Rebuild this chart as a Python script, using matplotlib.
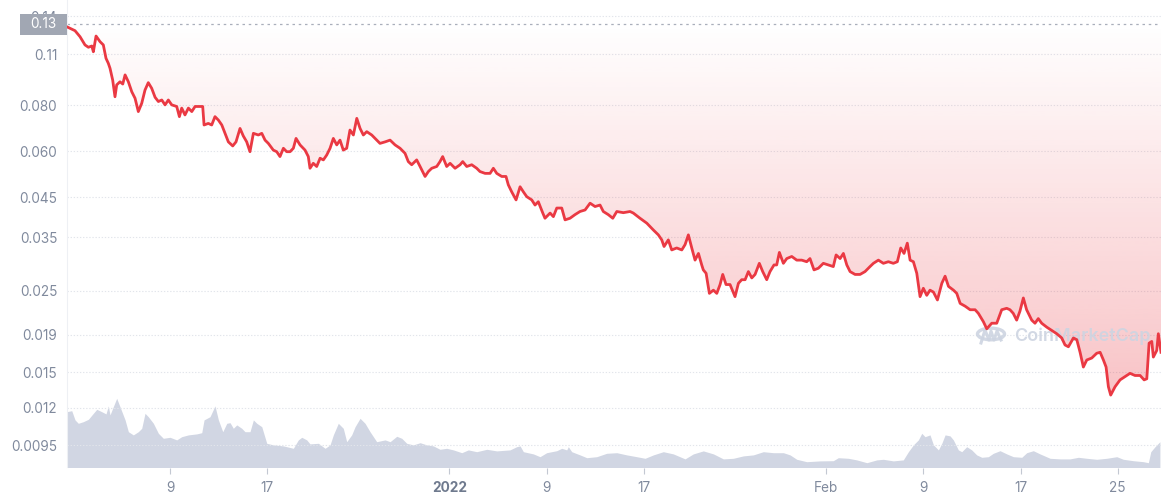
import numpy as np
import pandas as pd
import matplotlib
matplotlib.use("Agg")
import matplotlib.pyplot as plt
from matplotlib.patches import Rectangle, Circle
from matplotlib.lines import Line2D
from matplotlib.colors import to_rgb
from matplotlib.ticker import FixedLocator, NullLocator

plt.rcParams['font.family'] = ['Inter', 'DejaVu Sans']

# ---------------- data ----------------
start = pd.Timestamp("2021-12-01")
# price samples: days since 2021-12-01 and price in USD
price_day = [-0.50,0.18,0.59,1.00,1.28,1.56,1.69,1.91,2.24,2.51,2.73,2.92,3.06,3.28,3.47,3.61,3.88,4.11,4.30,4.57,
             4.85,5.12,5.39,5.67,5.94,6.21,6.49,6.77,7.04,7.32,7.59,7.86,8.14,8.55,8.77,8.96,9.23,9.51,9.79,10.06,
             10.47,10.69,10.80,11.15,11.43,11.70,11.98,12.26,12.53,12.80,13.16,13.43,13.76,14.03,14.31,14.58,14.86,15.27,15.55,15.82,
             16.09,16.50,16.78,17.05,17.33,17.60,17.88,18.15,18.37,18.70,19.11,19.38,19.52,19.79,20.07,20.35,20.62,20.90,21.17,21.44,
             21.72,21.99,22.26,22.54,22.81,23.09,23.37,23.64,23.91,24.19,24.60,25.01,25.28,25.70,26.11,26.52,26.93,27.34,27.61,27.89,
             28.30,28.58,28.99,29.26,29.54,29.95,30.22,30.44,30.77,31.05,31.46,31.87,32.09,32.42,32.83,33.24,33.51,33.93,34.34,34.61,
             34.89,35.30,35.65,35.84,36.12,36.48,36.81,37.08,37.36,37.77,38.04,38.31,38.68,38.86,39.28,39.55,39.83,40.24,40.51,40.92,
             41.33,41.74,42.16,42.57,42.98,43.39,43.66,44.07,44.44,44.77,45.31,45.86,46.13,46.68,47.24,47.78,48.19,48.47,48.66,49.01,
             49.29,49.70,50.12,50.39,50.66,50.94,51.21,51.49,51.76,51.89,52.12,52.39,52.72,53.00,53.27,53.49,53.76,54.09,54.50,54.78,
             55.05,55.33,55.60,55.88,56.15,56.50,56.78,57.11,57.38,57.71,57.93,58.15,58.48,58.76,59.17,59.58,59.99,60.40,60.67,61.00,
             61.36,61.77,62.18,62.59,62.82,63.15,63.42,63.70,63.97,64.38,64.79,65.20,65.61,65.89,66.30,66.71,67.12,67.53,67.86,68.14,
             68.41,68.68,68.91,69.18,69.46,69.73,70.00,70.28,70.55,70.83,71.16,71.52,71.79,72.07,72.48,72.75,73.03,73.44,73.85,74.26,
             74.53,74.94,75.22,75.63,76.04,76.45,76.86,77.13,77.40,77.68,77.95,78.23,78.50,78.92,79.19,79.46,79.74,80.16,80.57,80.98,
             81.39,81.66,81.94,82.35,82.63,82.90,83.17,83.45,83.86,84.27,84.55,84.82,85.04,85.23,85.42,85.78,86.19,86.60,87.01,87.42,
             87.84,88.17,88.39,88.58,88.80,88.93,89.21,89.34,89.56]
price = [0.1309,0.1277,0.1230,0.1168,0.1151,0.1160,0.1119,0.1235,0.1192,0.1168,0.1074,0.1041,0.1009,0.0937,0.0844,0.0909,0.0927,0.0914,0.0968,0.0927,
         0.0871,0.0836,0.0769,0.0810,0.0880,0.0922,0.0890,0.0841,0.0819,0.0827,0.0802,0.0827,0.0802,0.0794,0.0745,0.0786,0.0753,0.0786,0.0769,0.0794,
         0.0794,0.0794,0.0707,0.0714,0.0707,0.0745,0.0729,0.0707,0.0671,0.0636,0.0620,0.0636,0.0692,0.0660,0.0636,0.0598,0.0671,0.0664,0.0671,0.0643,
         0.0630,0.0604,0.0598,0.0580,0.0611,0.0598,0.0598,0.0611,0.0650,0.0624,0.0604,0.0580,0.0539,0.0556,0.0545,0.0574,0.0568,0.0586,0.0611,0.0650,
         0.0624,0.0643,0.0604,0.0611,0.0685,0.0664,0.0737,0.0692,0.0664,0.0678,0.0664,0.0643,0.0630,0.0636,0.0643,0.0624,0.0611,0.0592,0.0562,0.0551,
         0.0568,0.0545,0.0512,0.0528,0.0539,0.0545,0.0562,0.0580,0.0545,0.0556,0.0539,0.0551,0.0562,0.0545,0.0551,0.0539,0.0528,0.0522,0.0522,0.0539,
         0.0522,0.0512,0.0512,0.0486,0.0465,0.0442,0.0480,0.0465,0.0451,0.0442,0.0428,0.0437,0.0407,0.0394,0.0407,0.0398,0.0420,0.0420,0.0390,0.0394,
         0.0403,0.0411,0.0415,0.0433,0.0424,0.0428,0.0411,0.0403,0.0394,0.0411,0.0408,0.0411,0.0407,0.0394,0.0382,0.0366,0.0355,0.0344,0.0330,0.0344,
         0.0323,0.0327,0.0323,0.0334,0.0355,0.0327,0.0303,0.0316,0.0294,0.0285,0.0279,0.0246,0.0251,0.0246,0.0260,0.0277,0.0260,0.0260,0.0241,0.0262,
         0.0268,0.0268,0.0282,0.0271,0.0277,0.0297,0.0282,0.0268,0.0282,0.0294,0.0294,0.0318,0.0297,0.0306,0.0310,0.0303,0.0303,0.0300,0.0306,0.0285,
         0.0288,0.0297,0.0294,0.0291,0.0313,0.0306,0.0316,0.0294,0.0282,0.0277,0.0277,0.0282,0.0291,0.0297,0.0303,0.0297,0.0300,0.0297,0.0300,0.0327,
         0.0316,0.0337,0.0303,0.0300,0.0279,0.0241,0.0254,0.0243,0.0251,0.0248,0.0236,0.0262,0.0274,0.0257,0.0251,0.0246,0.0231,0.0227,0.0222,0.0222,
         0.0217,0.0206,0.0197,0.0204,0.0204,0.0222,0.0224,0.0222,0.0217,0.0208,0.0220,0.0239,0.0222,0.0208,0.0204,0.0210,0.0204,0.0199,0.0195,0.0191,
         0.0186,0.0178,0.0176,0.0186,0.0184,0.0170,0.0155,0.0162,0.0164,0.0169,0.0170,0.0162,0.0155,0.0137,0.0130,0.0137,0.0143,0.0146,0.0149,0.0147,
         0.0147,0.0143,0.0144,0.0180,0.0182,0.0165,0.0172,0.0191,0.0170]

# volume samples: days since 2021-12-01 and relative volume (millions)
vol_day = [-0.50,-0.09,0.18,0.45,0.86,1.28,1.69,1.97,2.38,2.73,2.92,3.06,3.33,3.61,3.88,4.30,4.57,4.98,5.39,5.67,
           5.94,6.21,6.63,7.04,7.45,8.00,8.55,8.96,9.51,10.20,10.61,10.80,11.29,11.70,11.98,12.34,12.67,12.94,13.21,13.49,
           13.90,14.17,14.58,14.86,15.14,15.55,15.96,16.50,17.33,18.15,18.56,18.84,19.25,19.52,20.21,20.76,21.17,21.44,21.85,22.26,
           22.54,22.95,23.23,23.64,24.05,24.46,25.01,25.70,26.11,26.66,27.07,27.48,28.02,28.58,29.13,29.67,30.22,30.77,31.32,32.01,
           32.55,33.24,34.07,34.89,35.98,36.53,36.81,37.08,37.90,38.45,39.00,39.83,40.24,40.65,40.78,41.06,41.74,42.30,43.12,43.94,
           44.77,45.59,46.41,47.10,47.78,48.60,49.42,50.39,51.07,51.89,52.72,53.54,54.36,55.19,56.01,56.83,57.65,58.48,59.03,59.58,
           60.40,61.50,62.59,63.00,63.83,64.52,65.35,66.17,66.71,67.53,68.35,68.77,69.18,69.59,69.87,70.14,70.55,70.83,71.24,71.52,
           71.79,72.20,72.47,72.88,73.16,73.57,73.98,74.39,74.81,75.35,75.76,76.31,76.86,77.41,78.10,78.51,79.05,79.60,80.43,81.25,
           82.07,82.76,83.45,84.27,85.09,85.92,86.46,87.28,88.11,88.52,88.72,89.07,89.47]
volume = [27.9,28.4,23.8,22.1,22.9,24.1,27.1,29.1,27.9,26.8,30.8,26.3,30.4,34.6,30.4,23.8,17.9,16.3,17.9,19.6,
          27.1,25.4,22.1,17.1,14.6,15.1,13.8,15.4,16.3,16.8,17.4,23.8,25.4,30.8,23.8,17.9,22.1,22.4,19.6,21.3,
          19.6,17.9,17.9,23.8,22.1,20.4,12.1,11.3,10.8,9.6,13.8,15.1,13.8,11.8,12.1,9.6,11.3,16.3,22.1,19.6,
          12.9,16.3,20.4,24.6,22.1,17.9,12.9,13.8,12.9,15.6,14.6,12.1,11.3,12.4,11.3,10.8,9.1,9.6,8.8,7.4,
          8.8,7.9,9.1,8.3,8.8,10.4,10.8,7.9,6.8,5.4,7.4,8.4,9.6,8.8,10.4,7.9,6.3,4.9,5.4,7.1,
          7.4,6.3,5.4,4.6,6.3,7.9,6.8,4.3,6.8,8.3,6.8,4.3,4.6,5.8,6.3,7.9,7.4,7.4,6.3,4.1,
          2.9,3.3,3.4,4.9,4.6,3.8,2.4,3.8,4.1,3.3,3.8,7.9,11.3,13.8,17.1,15.4,16.3,11.3,8.8,12.1,
          16.3,15.8,13.8,8.8,7.9,10.4,8.8,6.3,5.1,5.4,7.1,8.4,6.8,5.4,5.1,7.4,8.4,6.8,4.6,4.3,
          4.3,5.1,4.6,4.1,4.6,5.4,4.1,3.4,2.9,2.4,7.9,10.4,12.9]

open_price = 0.133  # reference (period open) price, dashed line

y_ticks = [0.0095, 0.012, 0.015, 0.019, 0.025, 0.035, 0.045, 0.060, 0.080, 0.11, 0.14]
y_tick_labels = ["0.0095", "0.012", "0.015", "0.019", "0.025", "0.035", "0.045", "0.060", "0.080", "0.11", "0.14"]
x_tick_dates = ["2021-12-09", "2021-12-17", "2022-01-01", "2022-01-09", "2022-01-17",
                "2022-02-01", "2022-02-09", "2022-02-17", "2022-02-25"]
x_tick_labels = ["9", "17", "2022", "9", "17", "Feb", "9", "17", "25"]

# ---------------- figure ----------------
W, H = 1161, 500
fig = plt.figure(figsize=(W / 100, H / 100), dpi=100)
fig.patch.set_facecolor("white")

pos = [67 / W, 32.5 / H, 1 - 67 / W, 467.5 / H]
axv = fig.add_axes(pos)
ax = fig.add_axes(pos, sharex=axv)
ax.patch.set_visible(False)

pt = start + pd.to_timedelta(price_day, unit="D")
vt = start + pd.to_timedelta(vol_day, unit="D")
xmin = start + pd.to_timedelta(-0.48, unit="D")
xmax = start + pd.to_timedelta(89.56, unit="D")

# volume
axv.fill_between(vt, 0, volume, color="#d1d6e3", lw=0)
axv.set_ylim(0, 233.75)
axv.set_xlim(xmin, xmax)
axv.axis("off")

# price axis
ax.set_yscale("log")
ax.set_xlim(xmin, xmax)
ax.set_ylim(0.008256, 0.1548)
ax.set_autoscale_on(False)

ax.yaxis.set_major_locator(FixedLocator(y_ticks))
ax.yaxis.set_minor_locator(NullLocator())
ax.set_yticklabels(y_tick_labels)
ax.tick_params(axis="y", length=0, pad=7, labelsize=9.8, labelcolor="#808a9d")
ax.yaxis.grid(True, color="#e2e5eb", linestyle=(0, (1.2, 1.6)), lw=0.8)
ax.set_axisbelow(True)

ax.set_xticks(pd.to_datetime(x_tick_dates))
ax.set_xticklabels(x_tick_labels)
ax.xaxis.set_minor_locator(NullLocator())
ax.tick_params(axis="x", length=4, width=0.8, color="#c3c8d2", pad=6,
               labelsize=9.8, labelcolor="#808a9d")
for lab in ax.get_xticklabels():
    if lab.get_text() == "2022":
        lab.set_fontweight("bold")
        lab.set_color("#6f7a8e")

for s in ["top", "right", "bottom"]:
    ax.spines[s].set_visible(False)
ax.spines["left"].set_color("#eef0f4")
ax.spines["left"].set_linewidth(0.8)

# gradient fill between open price and the price line
poly = ax.fill_between(pt, price, open_price, facecolor="none", edgecolor="none")
grad = np.zeros((256, 1, 4))
grad[..., :3] = to_rgb("#ea3943")
f = np.linspace(0, 1, 256)
grad[:, 0, 3] = np.clip((0.949 - f) / 0.794, 0, 1) * 0.30
im = ax.imshow(grad, extent=[0, 1, 0, 1], transform=ax.transAxes, aspect="auto",
               origin="lower", zorder=1, interpolation="bilinear")
im.set_clip_path(poly.get_paths()[0], transform=ax.transData)

# dashed open price line
ax.axhline(open_price, color="#a9afbb", ls=(0, (2, 3)), lw=0.9, zorder=2)

# watermark
wm_col = "#cdd4e1"
ax.add_artist(Circle((991 / W, 1 - 334 / H), 13.5 / W, transform=fig.transFigure,
                     fill=False, ec=wm_col, lw=2.4, alpha=0.9, zorder=2.5))
mx = np.array([981, 985, 989, 991, 994, 997, 1001]) / W
my = 1 - np.array([343, 330, 340, 331, 340, 331, 340]) / H
ax.add_artist(Line2D(mx, my, transform=fig.transFigure, color=wm_col, lw=2.2,
                     alpha=0.9, zorder=2.5))
ax.text(1014 / W, 1 - 336 / H, "CoinMarketCap", transform=fig.transFigure,
        fontsize=13, color=wm_col, alpha=0.9, fontweight="semibold", ha="left", va="center",
        zorder=2.5, clip_on=False)

# price line
ax.plot(pt, price, color="#ea3943", lw=2.0, zorder=3, solid_joinstyle="round")

# open price label box
fig.patches.append(Rectangle((20 / W, 1 - 35 / H), 47 / W, 21.5 / H, transform=fig.transFigure,
                             facecolor="#a1a7b3", edgecolor="none", zorder=5))
fig.text(43.5 / W, 1 - 24 / H, f"{open_price:.2f}", color="white", fontsize=9.8,
         ha="center", va="center", zorder=6)

fig.savefig("out.png", dpi=100, facecolor="white")
